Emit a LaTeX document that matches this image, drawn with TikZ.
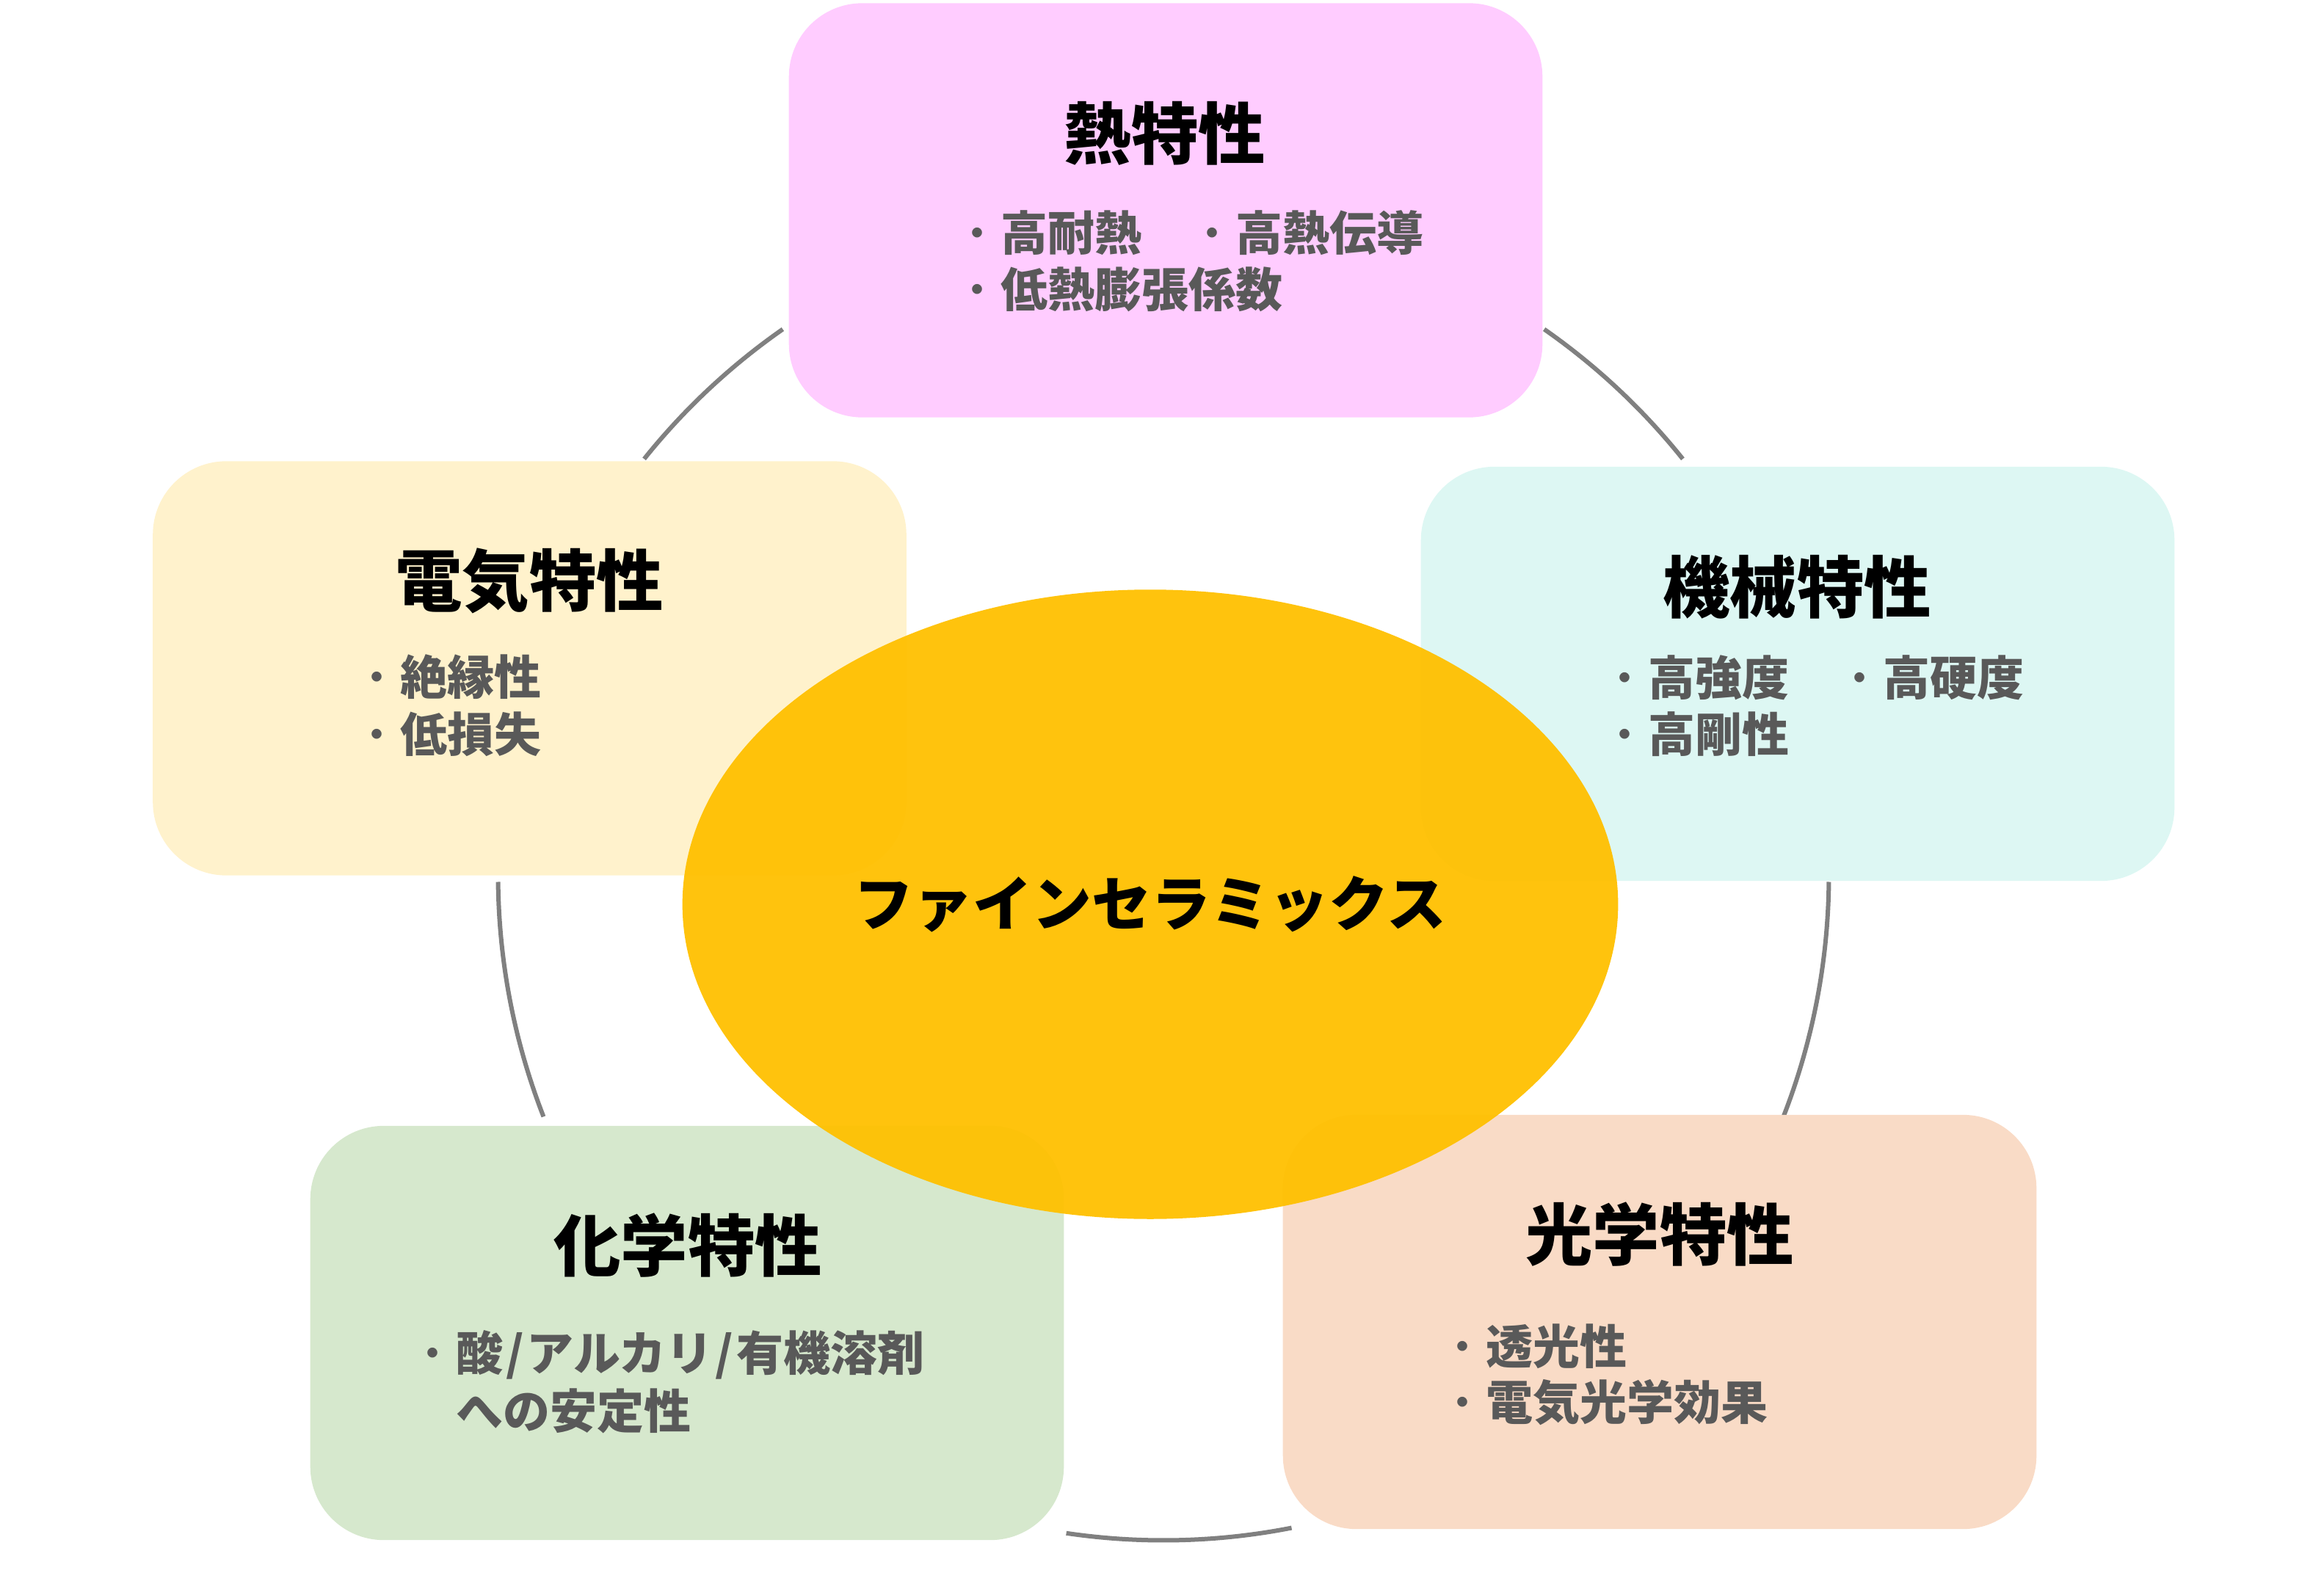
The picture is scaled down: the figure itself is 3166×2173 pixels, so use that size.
\documentclass[tikz,border=0pt]{standalone}
\usepackage{fontspec}
\setmainfont{Noto Sans CJK JP}
\newfontfamily\jp{Noto Sans CJK JP}
\usetikzlibrary{shapes.geometric,calc}
\definecolor{pinkbox}{HTML}{FFCCFF}
\definecolor{yellowbox}{HTML}{FFF2CC}
\definecolor{cyanbox}{HTML}{DDF7F3}
\definecolor{greenbox}{HTML}{D6E8CD}
\definecolor{peachbox}{HTML}{F9DBC6}
\definecolor{gold}{HTML}{FFC000}
\definecolor{itemgray}{HTML}{595959}
\definecolor{ringgray}{HTML}{808080}
\newcommand\myslash{\makebox[0.5em][c]{/}}
\newcommand\mybul{{\mdseries ・}}
\begin{document}
\begin{tikzpicture}[x=0.01cm,y=-0.01cm,
  box/.style={rounded corners=1cm, minimum width=10.26cm, minimum height=5.64cm, inner sep=0pt, draw=none},
  ttl/.style={font=\jp\bfseries\fontsize{26}{31}\selectfont, text=black, inner sep=0pt},
  item/.style={font=\jp\bfseries\fontsize{18.2}{22}\selectfont, text=itemgray, inner sep=0pt, anchor=west},
  ring/.style={draw=ringgray, line width=0.06cm}]
\useasboundingbox (0,0) rectangle (3166,2173);
% ring arcs
\coordinate (rc) at (1585,1192);
\draw[ring] ($(rc)+(141.3:9.06cm)$) arc[start angle=141.3, end angle=124.9, radius=9.06cm];
\draw[ring] ($(rc)+(55.1:9.06cm)$) arc[start angle=55.1, end angle=38.7, radius=9.06cm];
\draw[ring] ($(rc)+(-0.6:9.06cm)$) arc[start angle=-0.6, end angle=-21.3, radius=9.06cm];
\draw[ring] ($(rc)+(261.6:9.06cm)$) arc[start angle=261.6, end angle=281.1, radius=9.06cm];
\draw[ring] ($(rc)+(180.6:9.06cm)$) arc[start angle=180.6, end angle=201.3, radius=9.06cm];
% boxes
\node[box, fill=pinkbox] (thermal) at (1588,286.5) {};
\node[box, fill=yellowbox] (electric) at (721.5,910.5) {};
\node[box, fill=cyanbox] (mech) at (2449,918) {};
\node[box, fill=greenbox] (chem) at (936,1816) {};
\node[box, fill=peachbox] (optic) at (2261,1801) {};
% titles
\node[ttl] (t1) at (1587,182) {熱特性};
\node[ttl] (t2) at (721,791) {電気特性};
\node[ttl] (t3) at (2448,800) {機械特性};
\node[ttl] (t4) at (937,1697) {化学特性};
\node[ttl] (t5) at (2261,1682) {光学特性};
% items
\node[item] (p1) at (1299,317) {\mybul 高耐熱　\mybul 高熱伝導};
\node[item] (p2) at (1299,394) {\mybul 低熱膨張係数};
\node[item] (y1) at (481,922) {\mybul 絶縁性};
\node[item] (y2) at (481,1000) {\mybul 低損失};
\node[item] (c1) at (2181,923) {\mybul 高強度　\mybul 高硬度};
\node[item] (c2) at (2181,1000) {\mybul 高剛性};
\node[item] (g1) at (557,1846) {\mybul 酸\myslash アルカリ\myslash 有機溶剤};
\node[item] (g2) at (621,1922) {への安定性};
\node[item] (o1) at (1960,1834) {\mybul 透光性};
\node[item] (o2) at (1960,1911) {\mybul 電気光学効果};
% center ellipse
\node[ellipse, fill=gold, fill opacity=0.95, text opacity=1, minimum width=12.74cm, minimum height=8.57cm, inner sep=0pt,
  font=\jp\bfseries\fontsize{23}{28}\selectfont] (core) at (1567,1232) {ファインセラミックス};
\end{tikzpicture}
\end{document}
